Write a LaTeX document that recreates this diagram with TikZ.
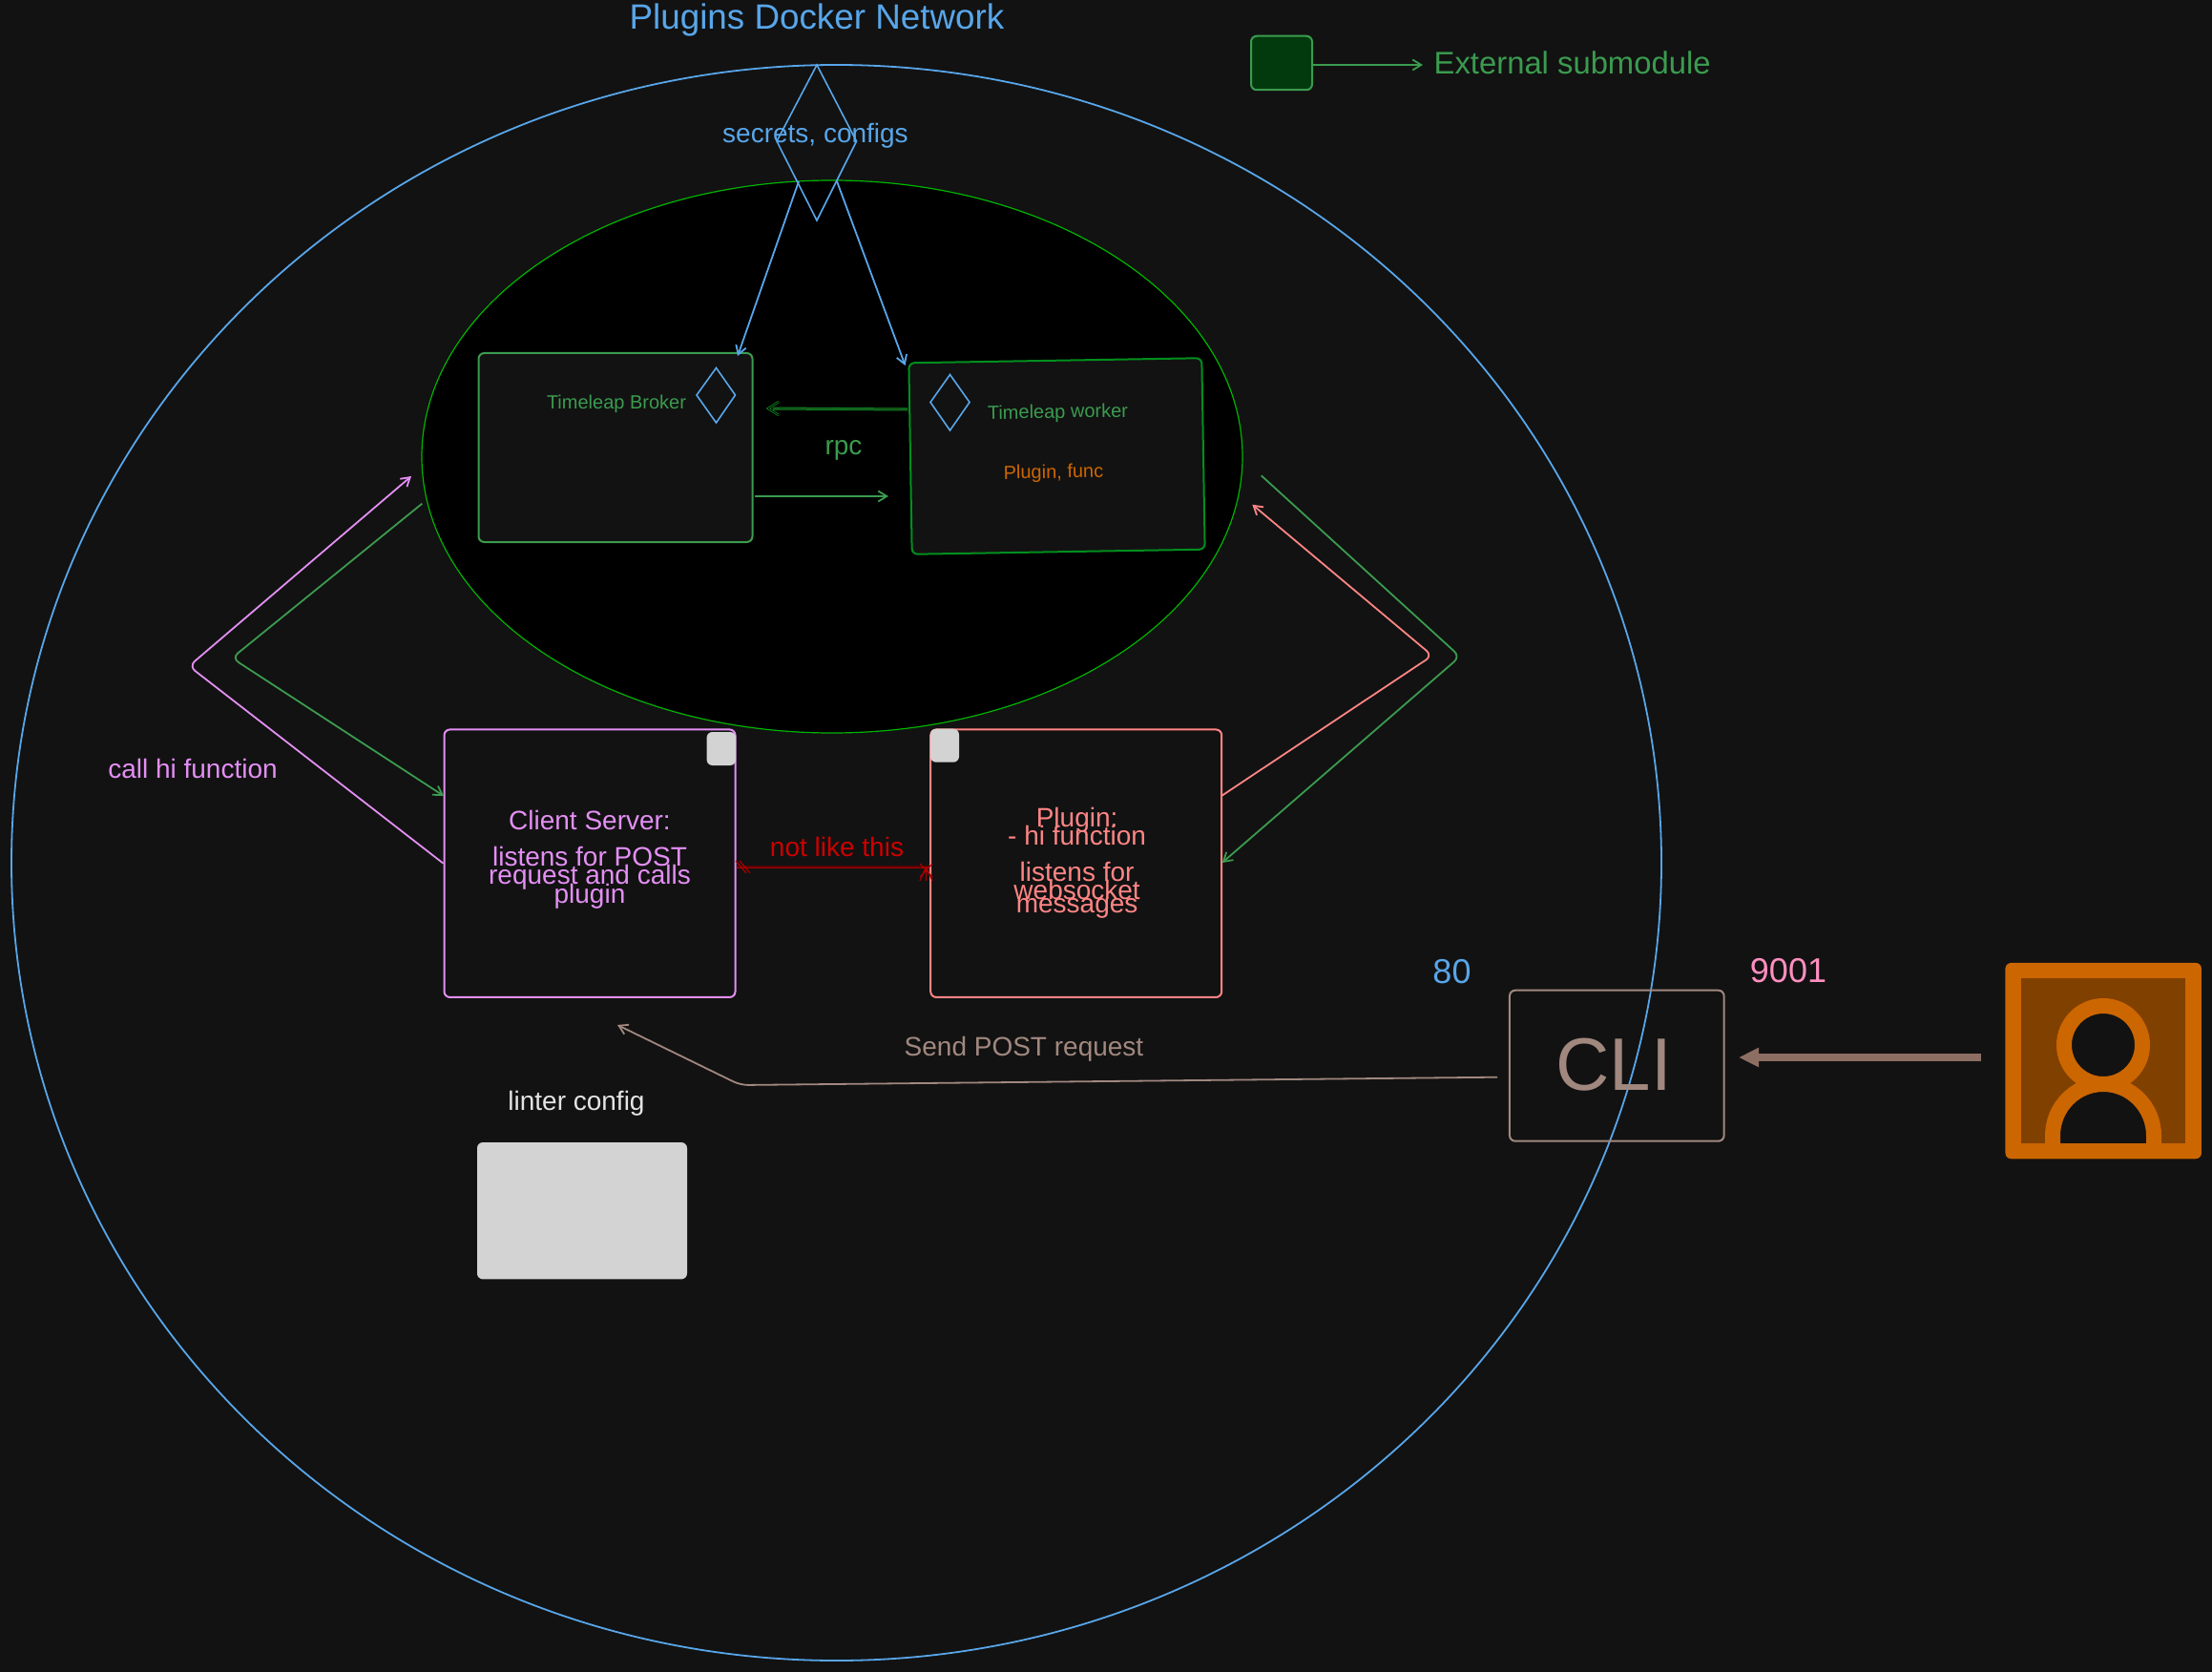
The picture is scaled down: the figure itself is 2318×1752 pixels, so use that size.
\documentclass[tikz,border=0pt]{standalone}
\usepackage{fontspec}
\setmainfont{Liberation Sans}
\usetikzlibrary{arrows.meta,shapes.geometric}
\definecolor{bgc}{HTML}{121212}
\definecolor{blu}{HTML}{58A6EA}
\definecolor{grn}{HTML}{3B9B4F}
\definecolor{brightgrn}{HTML}{00B400}
\definecolor{wgrn}{HTML}{008F1E}
\definecolor{dgrn}{HTML}{0E8A1E}
\definecolor{dgrni}{HTML}{14501A}
\definecolor{legf}{HTML}{033A0D}
\definecolor{pur}{HTML}{E38FF4}
\definecolor{sal}{HTML}{FF8585}
\definecolor{brn}{HTML}{A1887F}
\definecolor{dbrn}{HTML}{8D6E63}
\definecolor{org}{HTML}{CC6600}
\definecolor{dorg}{HTML}{804000}
\definecolor{lgr}{HTML}{D3D3D3}
\definecolor{drd}{HTML}{A80000}
\definecolor{drdi}{HTML}{5A0000}
\definecolor{rd}{HTML}{CC0000}
\definecolor{pnk}{HTML}{FF8FBF}
\newcommand{\fs}[1]{\fontsize{#1pt}{#1pt}\selectfont}
\tikzset{
  x=1pt,y=-1pt,
  box/.style={rectangle,rounded corners=6pt,line width=2pt,draw,inner sep=0pt},
  lbl/.style={inner sep=0pt,align=center,font=\fs{28}},
  conn/.style={line width=1.8pt,rounded corners=8pt},
  tipo/.style={-{Straight Barb[length=9pt,width=11pt,line width=1.8pt]}},
}
\begin{document}
\begin{tikzpicture}
\useasboundingbox[fill=bgc] (0,0) rectangle (2318,1752);
% networks
\node[ellipse,draw=blu,line width=1.8pt,minimum width=1729pt,minimum height=1672pt,inner sep=0pt] (net) at (876.5,904) {};
\node[ellipse,draw=brightgrn,fill=black,line width=1.2pt,minimum width=860pt,minimum height=579pt,inner sep=0pt] (sub) at (872,478.5) {};
% secrets diamond
\coordinate (dt) at (856,68);\coordinate (dr) at (897.5,148);\coordinate (db) at (856,231);\coordinate (dl) at (814,148);
\draw[blu,line width=1.6pt] (dt)--(dr)--(db)--(dl)--cycle;
\node[lbl,text=blu] (secrets) at (854.5,142) {secrets, configs};
\node[lbl,text=blu,font=\fs{36.8}] (title) at (856,21) {Plugins Docker Network};
% legend
\node[box,draw=grn,fill=legf,minimum width=64pt,minimum height=56.5pt] (leg) at (1343,66) {};
\node[lbl,text=grn,font=\fs{32.8},anchor=west] (legt) at (1502.5,65.5) {External submodule};
\coordinate (lege) at (1491,68);
\draw[grn,conn,tipo] (leg.east|-lege) -- (lege);
% broker
\node[box,draw=grn,fill=bgc,minimum width=287pt,minimum height=198pt] (broker) at (645,469) {};
\node[lbl,text=grn,font=\fs{20}] (brokert) at (646,423.5) {Timeleap Broker};
\coordinate (bdt) at (750.5,385.5);\coordinate (bdr) at (770.5,414);\coordinate (bdb) at (750.5,443);\coordinate (bdl) at (730,414);
\draw[blu,line width=1.6pt] (bdt)--(bdr)--(bdb)--(bdl)--cycle;
% worker
\node[box,draw=wgrn,fill=bgc,minimum width=307pt,minimum height=200.5pt,rotate=0.95] (worker) at (1107.5,478) {};
\node[lbl,text=grn,font=\fs{20},rotate=0.95] (workert) at (1108.5,433) {Timeleap worker};
\node[lbl,text=org,font=\fs{20},rotate=0.95] (func) at (1104,496) {Plugin, func};
\coordinate (wdt) at (995.5,392.5);\coordinate (wdr) at (1016,421.5);\coordinate (wdb) at (995.5,451);\coordinate (wdl) at (975,421.5);
\draw[blu,line width=1.6pt] (wdt)--(wdr)--(wdb)--(wdl)--cycle;
% blue arrows
\coordinate (a1s) at (837,190);\coordinate (a1e) at (773,373);
\coordinate (a2s) at (877,190);\coordinate (a2e) at (948.6,383);
\draw[blu,conn,tipo] (a1s)--(a1e);
\draw[blu,conn,tipo] (a2s)--(a2e);
% rpc
\coordinate (r1s) at (951,429);\coordinate (r1e) at (810,428);
\draw[dgrn,line width=.8pt,double=dgrni,double distance=1.4pt] (r1s)--(r1e);
\draw[dgrn,line width=2.4pt,miter limit=2] (816,421)--(805,428)--(816,435);
\draw[black,line width=.8pt,miter limit=2] (816,421)--(805,428)--(816,435);
\coordinate (r2s) at (791,520);\coordinate (r2e) at (931,520);
\draw[grn,conn,tipo] (r2s)--(r2e);
\node[lbl,text=grn] (rpc) at (884,472) {rpc};
% client & plugin
\node[box,draw=pur,fill=bgc,minimum width=305pt,minimum height=280.5pt] (client) at (618,904.7) {};
\node[box,draw=sal,fill=bgc,minimum width=305pt,minimum height=280.5pt] (plugin) at (1127.7,904.7) {};
\node[box,draw=none,fill=lgr,minimum width=30.5pt,minimum height=35pt] (csq) at (755.8,784.5) {};
\node[box,draw=none,fill=lgr,minimum width=30pt,minimum height=35pt] (psq) at (990,781.2) {};
\node[lbl,text=pur] at (618,859) {Client Server:};
\node[lbl,text=pur] at (618,897.5) {listens for POST};
\node[lbl,text=pur] at (618,919) {request and calls};
\node[lbl,text=pur] at (618,939) {plugin};
\node[lbl,text=sal] at (1128.6,859) {Plugin:};
\node[lbl,text=sal] at (1128.6,875.5) {- hi function};
\node[lbl,text=sal] at (1128.6,913.5) {listens for};
\node[lbl,text=sal] at (1128.6,932.6) {websocket};
\node[lbl,text=sal] at (1128.6,952) {messages};
\node[lbl,text=rd] (nlt) at (877,887) {not like this};
\draw[drd,line width=.8pt,double=drdi,double distance=1.4pt] (client.east|-0,908) -- (plugin.west|-0,908);
\draw[drd,line width=1.2pt] (775,902)--(786,915) (771,902)--(782,915);
\draw[drd,line width=1.2pt] (964,905)--(977,919) (977,905)--(964,919) (970.5,908)--(964,923) (970.5,908)--(970.5,923) (970.5,908)--(977,923);
% left loop
\coordinate (pv) at (198,698);\coordinate (pe) at (431,499);
\draw[pur,conn,tipo] (client.west)--(pv)--(pe);
\coordinate (gs) at (442.3,527.7);\coordinate (gv) at (243,689.5);\coordinate (ge) at (465,834);
\draw[grn,conn,tipo] (gs)--(gv)--(ge);
\node[lbl,text=pur] (call) at (202,805) {call hi function};
% right loop
\coordinate (g2s) at (1321.7,498.3);\coordinate (g2v) at (1530,688);\coordinate (g2e) at (1280.7,904);
\draw[grn,conn,tipo] (g2s)--(g2v)--(g2e);
\coordinate (ss) at (1280,834);\coordinate (sv) at (1501,687);\coordinate (se) at (1312.3,528.7);
\draw[sal,conn,tipo] (ss)--(sv)--(se);
% linter
\node[lbl,text=lgr!60!white] (lint) at (604,1156.5) {linter config};
\node[box,draw=none,fill=lgr,minimum width=220pt,minimum height=143.4pt] (lintb) at (610,1268.7) {};
% CLI
\node[box,draw=brn,minimum width=224.7pt,minimum height=158pt] (cli) at (1694.3,1116.7) {};
\node[lbl,text=brn,font=\fs{78}] (clit) at (1691,1116) {CLI};
\node[lbl,text=blu,font=\fs{36}] (p80) at (1521.5,1018) {80};
\node[lbl,text=pnk,font=\fs{36}] (p9001) at (1874,1017) {9001};
\coordinate (ps) at (1569,1128.7);\coordinate (pc) at (776,1137);\coordinate (pt) at (647,1074);
\draw[brn,conn,tipo] (ps)--(pc)--(pt);
\node[lbl,text=brn] (post) at (1073,1099) {Send POST request};
% user
\node[rectangle,rounded corners=6pt,fill=org,draw=none,minimum width=205.5pt,minimum height=205.3pt,inner sep=0pt] (user) at (2204.2,1111.6) {};
\node[rectangle,fill=dorg,draw=none,minimum width=172.3pt,minimum height=172.4pt,inner sep=0pt] (userin) at (2204.2,1111.5) {};
\begin{scope}
\clip (userin.south west) rectangle (userin.north east);
\draw[org,fill=bgc,line width=16pt] (2151,1215) -- (2151,1190) arc[start angle=180,end angle=360,x radius=53,y radius=54] -- (2257,1215);
\end{scope}
\draw[org,fill=bgc,line width=16pt] (2204,1095) ellipse[x radius=41,y radius=41];
\coordinate (us) at (2076.4,1108);\coordinate (ue) at (1822,1108);
\draw[dbrn,line width=8pt,-{Triangle[length=21pt,width=19pt]}] (us)--(ue);
\end{tikzpicture}
\end{document}
